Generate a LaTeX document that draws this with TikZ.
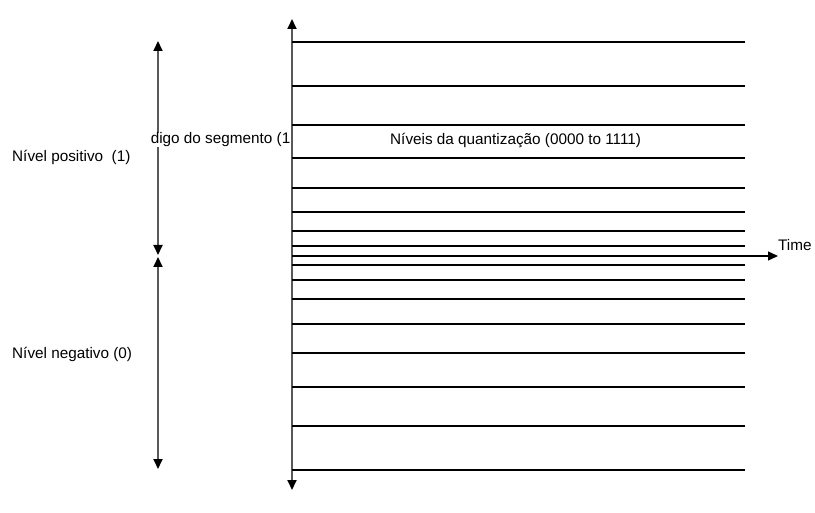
\documentclass[tikz,border=0pt]{standalone}
\usepackage{fontspec}
\setmainfont{Liberation Sans}
\usetikzlibrary{arrows.meta}
\begin{document}
\begin{tikzpicture}[x=1pt,y=-1pt,
  level/.style={line width=1.3pt,black},
  thicklevel/.style={line width=2.6pt,black},
  axisline/.style={line width=1.8pt,black!65},
  lbl/.style={font=\fontsize{15.3}{17}\selectfont,inner sep=1pt,anchor=west}]
\tikzset{>={Triangle[length=10pt,width=9pt,black]}}
\useasboundingbox (0,0) rectangle (815,513);
% vertical axis
\coordinate (vtop) at (292,19);
\coordinate (vbot) at (292,490);
\draw[axisline,<->] (vtop) -- (vbot);
% quantization levels
\foreach \y/\s in {42/thicklevel,86/level,125/level,158/level,188/thicklevel,212/level,231/level,246/level,265/level,280/level,299/level,324/thicklevel,353/level,387/level,426/level,470/thicklevel}{
  \coordinate (l\y a) at (292,\y);
  \coordinate (l\y b) at (745,\y);
  \draw[\s] (l\y a) -- (l\y b);
}
% time axis
\coordinate (t0) at (292,256);
\coordinate (t1) at (778,256);
\draw[level,->] (t0) -- (t1);
\node[lbl] (time) at (777,245) {Time};
% left arrows
\coordinate (p1) at (158,41);
\coordinate (p2) at (158,255);
\coordinate (n1) at (158,257);
\coordinate (n2) at (158,469);
\draw[axisline,<->] (p1) -- (p2);
\draw[axisline,<->] (n1) -- (n2);
% labels
\node[lbl] (pos) at (11,157) {Nível positivo\ \ (1)};
\node[lbl] (neg) at (11,354) {Nível negativo (0)};
\node[lbl,fill=white,anchor=east,inner sep=0pt] (seg) at (290.5,140) {digo do segmento (1};
\node[lbl] (quant) at (389,140) {Níveis da quantização (0000 to 1111)};
\end{tikzpicture}
\end{document}
